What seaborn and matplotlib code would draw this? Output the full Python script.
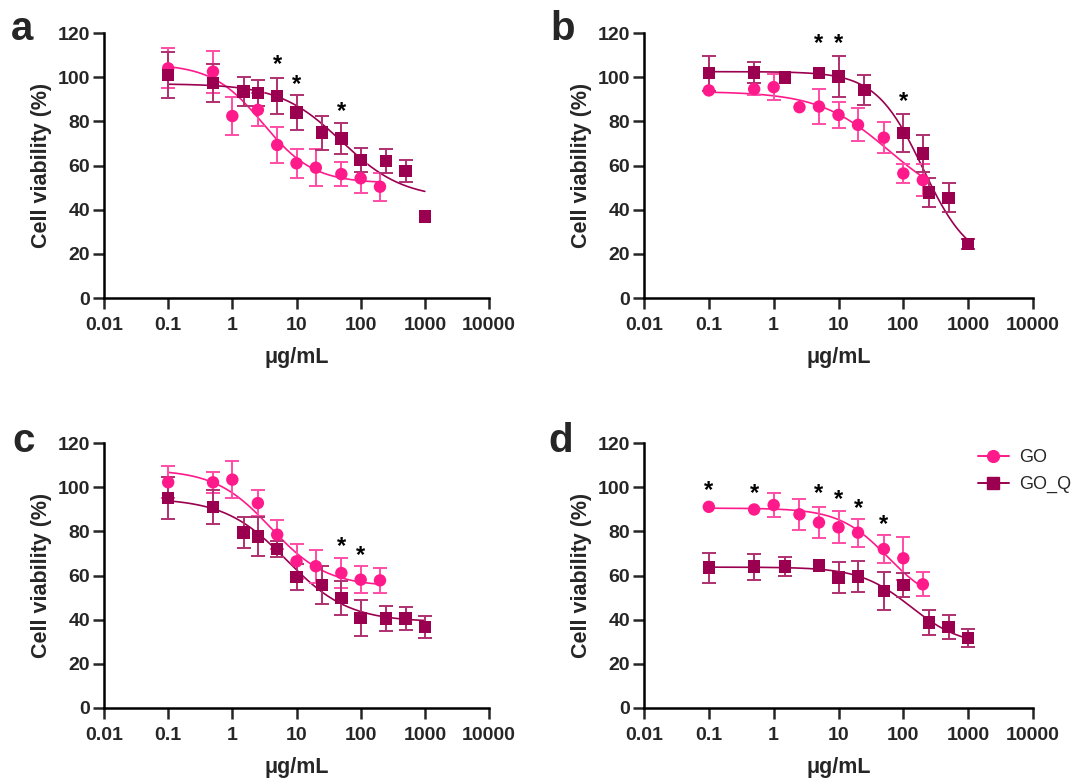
import matplotlib

matplotlib.use("Agg")

import matplotlib.pyplot as plt
import numpy as np
import pandas as pd
import seaborn as sns
from matplotlib.lines import Line2D

# concentrations (ug/mL)
x_go = [0.1, 0.5, 1, 2.5, 5, 10, 20, 50, 100, 200]
x_goq_ac = [0.1, 0.5, 1.5, 2.5, 5, 10, 25, 50, 100, 250, 500, 1000]
x_goq_b = [0.1, 0.5, 1.5, 5, 10, 25, 100, 200, 250, 500, 1000]
x_goq_d = [0.1, 0.5, 1.5, 5, 10, 20, 50, 100, 250, 500, 1000]

# panel a
a_go = [104, 102.5, 82.4, 85.2, 69.3, 61, 59, 56.1, 54.2, 50.4]
a_go_sd = [9, 9.5, 8.7, 7.5, 8.3, 6.5, 8.5, 5.3, 6.7, 6.4]
a_goq = [101, 97.3, 93.5, 92.7, 91.5, 84, 74.9, 72.3, 62.5, 62, 57.6, 37]
a_goq_sd = [10.5, 8.7, 6.5, 5.9, 8, 7.9, 7.7, 6.9, 5.6, 5.4, 4.9, 0]

# panel b
b_go = [94, 94.6, 95.5, 86.4, 86.7, 82.9, 78.4, 72.6, 56.4, 53.4]
b_go_sd = [0, 2.9, 5.9, 0, 7.9, 6, 7.5, 7, 4.5, 7.2]
b_goq = [101.8, 102.1, 99.8, 101.8, 100.3, 94.2, 74.6, 65.5, 47.7, 45.4, 24.4]
b_goq_sd = [8, 4.7, 0, 0, 9.5, 7, 8.5, 8.5, 6.5, 6.6, 2.3]

# panel c
c_go = [102.2, 102.2, 103.4, 92.8, 78.5, 66.4, 64.2, 61.1, 58.1, 57.8]
c_go_sd = [7.2, 4.8, 8.3, 6, 6.5, 7.9, 7.5, 6.6, 6, 5.8]
c_goq = [95.1, 91, 79.5, 77.7, 72, 59.3, 55.8, 49.8, 40.8, 40.5, 40.5, 36.7]
c_goq_sd = [9.5, 7.5, 7, 8.8, 3.7, 5.9, 8.7, 7.5, 8.2, 5.8, 5.2, 5]

# panel d
d_go = [91.1, 89.9, 91.9, 87.7, 84, 81.8, 79.4, 72, 67.8, 56]
d_go_sd = [0, 0, 5.5, 7, 7.2, 7.2, 6.4, 6.2, 9.8, 5.4]
d_goq = [63.6, 64, 64, 64.5, 59, 59.5, 53, 55.7, 38.7, 36.6, 31.6]
d_goq_sd = [6.8, 5.9, 4.2, 0, 6.9, 7, 8.4, 5.3, 5.5, 5.5, 4]

# dose-response fits: top, bottom, EC50, hill
fit_go = {"a": (106, 52, 3, 1.1), "b": (93.5, 40, 60, 0.8),
          "c": (108, 55, 4, 1.0), "d": (90.5, 46, 58, 1.15)}
fit_goq = {"a": (97, 45, 50, 0.9), "b": (102.5, 15, 200, 1.2),
           "c": (95, 39, 7, 0.9), "d": (63.8, 28, 130, 1.1)}

# significance marks: concentration and height of the asterisk
star_x = {"a": [5, 10, 50], "b": [5, 10, 100], "c": [50, 100],
          "d": [0.1, 0.5, 5, 10, 20, 50]}
star_y = {"a": [105.6, 96.5, 84.4], "b": [115.4, 115.4, 89], "c": [73.2, 69.1],
          "d": [98.6, 97.1, 97.1, 94.4, 90.4, 83.3]}

GO_COLOR = "#ff1a8c"
GOQ_COLOR = "#9b0050"
GO_ERR = "#ff4da6"
GOQ_ERR = "#b03070"

panels = {
    "a": (x_go, a_go, a_go_sd, x_goq_ac, a_goq, a_goq_sd),
    "b": (x_go, b_go, b_go_sd, x_goq_b, b_goq, b_goq_sd),
    "c": (x_go, c_go, c_go_sd, x_goq_ac, c_goq, c_goq_sd),
    "d": (x_go, d_go, d_go_sd, x_goq_d, d_goq, d_goq_sd),
}

sns.set_style("ticks")
plt.rcParams["font.family"] = ["Liberation Sans", "DejaVu Sans"]
plt.rcParams["font.weight"] = "bold"


def logistic(x, top, bottom, ec50, hill):
    return bottom + (top - bottom) / (1 + (x / ec50) ** hill)


fig = plt.figure(figsize=(10.74, 7.81), dpi=100)
W, H = 1074, 781
boxes = {
    "a": (104, 33, 489, 298),
    "b": (644, 33, 1033, 298),
    "c": (104, 443, 489, 708),
    "d": (644, 443, 1033, 708),
}
letter_pos = {"a": (11, 40), "b": (550, 40), "c": (12, 452), "d": (548, 452)}
palette = {"GO": GO_COLOR, "GO_Q": GOQ_COLOR}

for key, (xg, yg, sg, xq, yq, sq) in panels.items():
    l, t, r, b = boxes[key]
    ax = fig.add_axes([l / W, 1 - b / H, (r - l) / W, (b - t) / H])

    rows = []
    for name, xs, ys, sds in [("GO", xg, yg, sg), ("GO_Q", xq, yq, sq)]:
        for xv, yv, sv in zip(xs, ys, sds):
            rows.append({"conc": xv, "viability": yv, "sd": sv, "group": name})
    df = pd.DataFrame(rows)

    curves = []
    for name, xs, params in [("GO", xg, fit_go[key]), ("GO_Q", xq, fit_goq[key])]:
        xx = np.geomspace(min(xs), max(xs), 200)
        curves.append(pd.DataFrame({"conc": xx, "viability": logistic(xx, *params), "group": name}))
    curve_df = pd.concat(curves)

    sns.lineplot(data=curve_df, x="conc", y="viability", hue="group", palette=palette,
                 linewidth=1.2, ax=ax, legend=False, zorder=2)

    for name, ecol in [("GO", GO_ERR), ("GO_Q", GOQ_ERR)]:
        sub = df[(df["group"] == name) & (df["sd"] > 0)]
        ax.errorbar(sub["conc"], sub["viability"], yerr=sub["sd"], fmt="none",
                    ecolor=ecol, elinewidth=1.4, capsize=5, capthick=1.4, zorder=3)

    sns.scatterplot(data=df, x="conc", y="viability", hue="group", style="group",
                    markers={"GO": "o", "GO_Q": "s"}, palette=palette, s=80,
                    edgecolor="none", ax=ax, legend=False, zorder=4)

    for xv, yv in zip(star_x[key], star_y[key]):
        ax.text(xv, yv, "*", ha="center", va="center",
                fontsize=17, fontweight="bold", color="black")

    ax.set_xscale("log")
    ax.set_xlim(0.01, 10000)
    ax.set_ylim(0, 120)
    ax.set_xticks([0.01, 0.1, 1, 10, 100, 1000, 10000])
    ax.set_xticklabels(["0.01", "0.1", "1", "10", "100", "1000", "10000"])
    ax.minorticks_off()
    ax.set_yticks(range(0, 121, 20))
    ax.tick_params(axis="both", labelsize=14, width=1.8, length=8, direction="out")
    ax.tick_params(axis="x", pad=6)
    ax.tick_params(axis="y", pad=2)
    for lab in ax.get_xticklabels() + ax.get_yticklabels():
        lab.set_fontweight("bold")
    ax.set_xlabel("μg/mL", fontsize=15.5, fontweight="bold", labelpad=9)
    ax.set_ylabel("Cell viability (%)", fontsize=15.5, fontweight="bold", labelpad=4)
    sns.despine(ax=ax)
    for sp in ["left", "bottom"]:
        ax.spines[sp].set_linewidth(1.8)
        ax.spines[sp].set_color("black")

    lx, ly = letter_pos[key]
    fig.text(lx / W, 1 - ly / H, key, fontsize=29, fontweight="bold",
             ha="left", va="baseline")

    if key == "d":
        handles = [
            Line2D([], [], color=GO_COLOR, marker="o", markersize=8.5, linewidth=1.4),
            Line2D([], [], color=GOQ_COLOR, marker="s", markersize=8.5, linewidth=1.4),
        ]
        ax.legend(handles, ["GO", "GO_Q"], loc="upper left", bbox_to_anchor=(0.84, 1.005),
                  frameon=False, prop={"size": 13, "weight": "normal"},
                  handlelength=1.7, handletextpad=0.6, labelspacing=0.55,
                  borderaxespad=0)

fig.savefig("out.png", dpi=100)
plt.close(fig)
